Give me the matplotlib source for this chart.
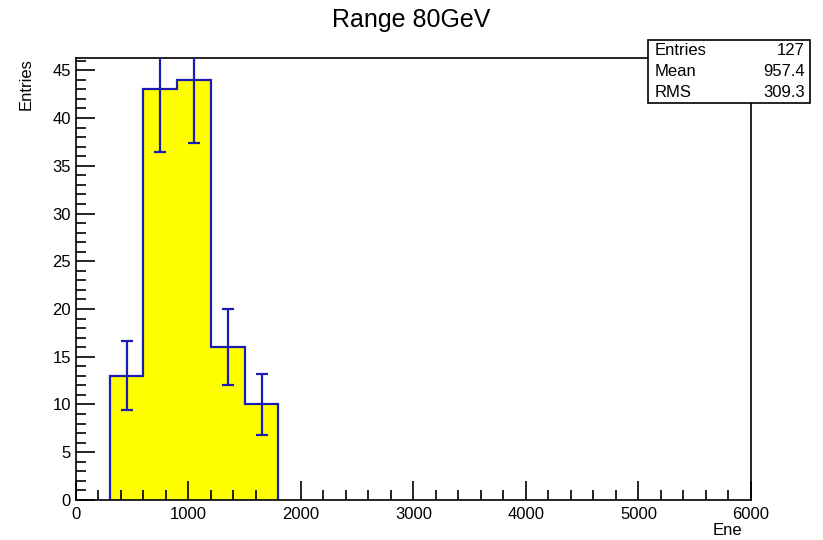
import numpy as np
import matplotlib.pyplot as plt
from matplotlib.ticker import MultipleLocator

# Histogramm-Daten (Bins je 300 GeV)
bin_edges = [300, 600, 900, 1200, 1500, 1800]
counts = [13, 43, 44, 16, 10]
stats_labels = ["Entries", "Mean", "RMS"]
stats_values = ["127", "957.4", "309.3"]

plt.rcParams['font.family'] = ['Liberation Sans', 'DejaVu Sans']

fig = plt.figure(figsize=(8.23, 5.4), dpi=100)
ax = fig.add_axes([0.0923, 0.0741, 0.8202, 0.8185])

edges = np.array(bin_edges, dtype=float)
vals = np.array(counts, dtype=float)
centers = (edges[:-1] + edges[1:]) / 2
blue = '#1c1cb4'

ax.stairs(vals, edges, fill=True, color='#ffff00', zorder=1)
ax.stairs(vals, edges, color=blue, linewidth=1.6, baseline=0, zorder=2)
ax.errorbar(centers, vals, yerr=np.sqrt(vals), fmt='none', ecolor=blue,
            elinewidth=1.6, capsize=4, capthick=1.6, zorder=3)

ax.set_xlim(0, 6000)
ax.set_ylim(0, max(vals) * 1.052)
ax.xaxis.set_major_locator(MultipleLocator(1000))
ax.xaxis.set_minor_locator(MultipleLocator(200))
ax.yaxis.set_major_locator(MultipleLocator(5))
ax.yaxis.set_minor_locator(MultipleLocator(1))
ax.tick_params(which='both', direction='in', top=False, right=False, width=1.2, labelsize=12)
ax.tick_params(which='major', length=14)
ax.tick_params(which='minor', length=7)
ax.tick_params(axis='x', pad=5)
for sp in ax.spines.values():
    sp.set_linewidth(1.2)

fig.text(0.5, 0.963, "Range 80GeV", ha='center', va='center', fontsize=18)
fig.text(0.884, 0.003, "Ene", ha='center', va='bottom', fontsize=12)
fig.text(0.032, 0.845, "Entries", ha='center', va='center', rotation=90, fontsize=12)

# Statistik-Box
bx0, by0, bw, bh = 648 / 823, 1 - 103 / 540, 162 / 823, 63 / 540
fig.patches.append(plt.Rectangle((bx0, by0), bw, bh, transform=fig.transFigure,
                                 facecolor='white', edgecolor='black', linewidth=1.2, zorder=5))
for i, (lab, v) in enumerate(zip(stats_labels, stats_values)):
    yy = by0 + bh * (5 - 2 * i) / 6
    fig.text(bx0 + 0.008, yy, lab, ha='left', va='center', fontsize=12, zorder=6)
    fig.text(bx0 + bw - 0.006, yy, v, ha='right', va='center', fontsize=12, zorder=6)

fig.savefig("out.png", dpi=100)
